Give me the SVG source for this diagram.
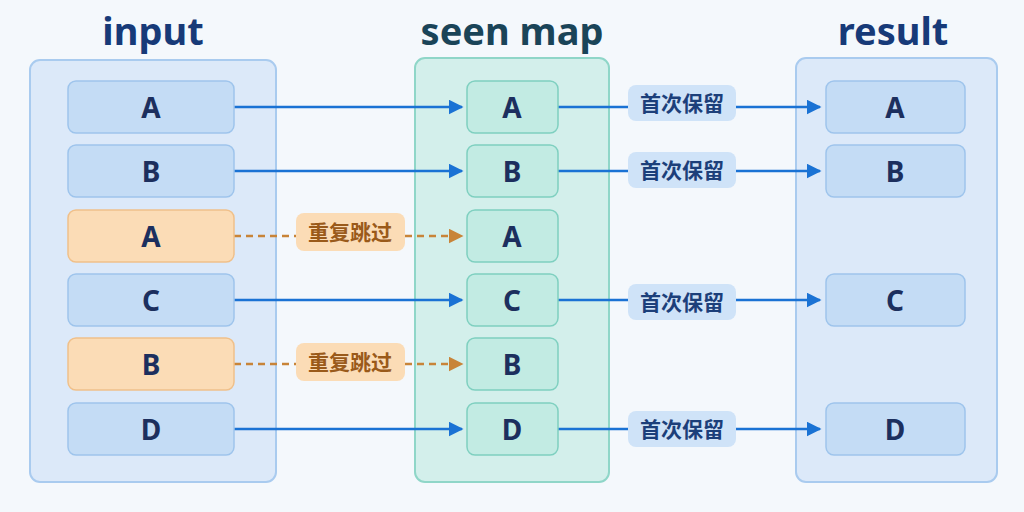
<svg xmlns="http://www.w3.org/2000/svg" width="1024" height="512" viewBox="0 0 1024 512">
<defs>
<style>
.t{font-family:"Noto Sans","Noto Sans CJK SC",sans-serif;font-weight:bold;text-anchor:middle;dominant-baseline:central}
.title{font-size:38px;fill:#173a78}
.nb{fill:#c4dcf5;stroke:#9ec4ec;stroke-width:1.5}
.no{fill:#fbdcb6;stroke:#f0c08a;stroke-width:1.5}
.ng{fill:#c2ebe3;stroke:#7fd0c0;stroke-width:1.5}
.lt{font-size:28px;fill:#1c2f5e}
.lb{fill:#cfe3f8}
.lo{fill:#fbdcb6}
.ls{font-size:21px;fill:#1c3f7a}
.lso{font-size:21px;fill:#9a5a1a}
.a{stroke:#1a72d4;stroke-width:2.5;fill:none;marker-end:url(#ab)}
.d{stroke:#c88438;stroke-width:2.5;fill:none;stroke-dasharray:7 5;marker-end:url(#ao)}
</style>
<marker id="ab" viewBox="0 0 10 10" refX="9" refY="5" markerWidth="6" markerHeight="6" orient="auto"><path d="M0 0L10 5L0 10z" fill="#1a72d4"/></marker>
<marker id="ao" viewBox="0 0 10 10" refX="9" refY="5" markerWidth="6" markerHeight="6" orient="auto"><path d="M0 0L10 5L0 10z" fill="#c88438"/></marker>
</defs>
<rect width="1024" height="512" fill="#f4f8fc"/>
<text class="t title" x="153" y="30">input</text>
<text class="t title" x="512" y="30" style="fill:#1a4458">seen map</text>
<text class="t title" x="893" y="30">result</text>
<rect x="30" y="60" width="246" height="422" rx="10" fill="#dce9f9" stroke="#a9cbef" stroke-width="2"/>
<rect x="415" y="58" width="194" height="424" rx="10" fill="#d3efeb" stroke="#8fd6c8" stroke-width="2"/>
<rect x="796" y="58" width="201" height="424" rx="10" fill="#dce9f9" stroke="#a9cbef" stroke-width="2"/>
<g id="connectors">
<path class="a" d="M234 107H462"/><path class="a" d="M234 171H462"/><path class="d" d="M234 236H296M405 236H462"/>
<path class="a" d="M234 300H462"/><path class="d" d="M234 364H296M405 364H462"/><path class="a" d="M234 429H462"/>
<path class="a" d="M558 107H628M736 107H820"/><path class="a" d="M558 171H628M736 171H820"/>
<path class="a" d="M558 300H628M736 300H820"/><path class="a" d="M558 429H628M736 429H820"/>
<g id="lbl1"><rect class="lb" x="628" y="85" width="108" height="36" rx="8"/><text class="t ls" x="682" y="103">首次保留</text></g>
<g id="lbl2"><rect class="lb" x="628" y="152" width="108" height="36" rx="8"/><text class="t ls" x="682" y="170">首次保留</text></g>
<g id="lbl3"><rect class="lb" x="628" y="284" width="108" height="36" rx="8"/><text class="t ls" x="682" y="302">首次保留</text></g>
<g id="lbl4"><rect class="lb" x="628" y="411" width="108" height="36" rx="8"/><text class="t ls" x="682" y="429">首次保留</text></g>
<g id="lbl5"><rect class="lo" x="296" y="213" width="109" height="38" rx="8"/><text class="t lso" x="350" y="232">重复跳过</text></g>
<g id="lbl6"><rect class="lo" x="296" y="343" width="109" height="38" rx="8"/><text class="t lso" x="350" y="362">重复跳过</text></g>
</g>
<g id="in1"><rect class="nb" x="68" y="81" width="166" height="52" rx="8"/><text class="t lt" x="151" y="107">A</text></g>
<g id="in2"><rect class="nb" x="68" y="145" width="166" height="52" rx="8"/><text class="t lt" x="151" y="171">B</text></g>
<g id="in3"><rect class="no" x="68" y="210" width="166" height="52" rx="8"/><text class="t lt" x="151" y="236">A</text></g>
<g id="in4"><rect class="nb" x="68" y="274" width="166" height="52" rx="8"/><text class="t lt" x="151" y="300">C</text></g>
<g id="in5"><rect class="no" x="68" y="338" width="166" height="52" rx="8"/><text class="t lt" x="151" y="364">B</text></g>
<g id="in6"><rect class="nb" x="68" y="403" width="166" height="52" rx="8"/><text class="t lt" x="151" y="429">D</text></g>
<g id="s1"><rect class="ng" x="467" y="81" width="91" height="52" rx="8"/><text class="t lt" x="512" y="107">A</text></g>
<g id="s2"><rect class="ng" x="467" y="145" width="91" height="52" rx="8"/><text class="t lt" x="512" y="171">B</text></g>
<g id="s3"><rect class="ng" x="467" y="210" width="91" height="52" rx="8"/><text class="t lt" x="512" y="236">A</text></g>
<g id="s4"><rect class="ng" x="467" y="274" width="91" height="52" rx="8"/><text class="t lt" x="512" y="300">C</text></g>
<g id="s5"><rect class="ng" x="467" y="338" width="91" height="52" rx="8"/><text class="t lt" x="512" y="364">B</text></g>
<g id="s6"><rect class="ng" x="467" y="403" width="91" height="52" rx="8"/><text class="t lt" x="512" y="429">D</text></g>
<g id="r1"><rect class="nb" x="826" y="81" width="139" height="52" rx="8"/><text class="t lt" x="895" y="107">A</text></g>
<g id="r2"><rect class="nb" x="826" y="145" width="139" height="52" rx="8"/><text class="t lt" x="895" y="171">B</text></g>
<g id="r3"><rect class="nb" x="826" y="274" width="139" height="52" rx="8"/><text class="t lt" x="895" y="300">C</text></g>
<g id="r4"><rect class="nb" x="826" y="403" width="139" height="52" rx="8"/><text class="t lt" x="895" y="429">D</text></g>
</svg>
